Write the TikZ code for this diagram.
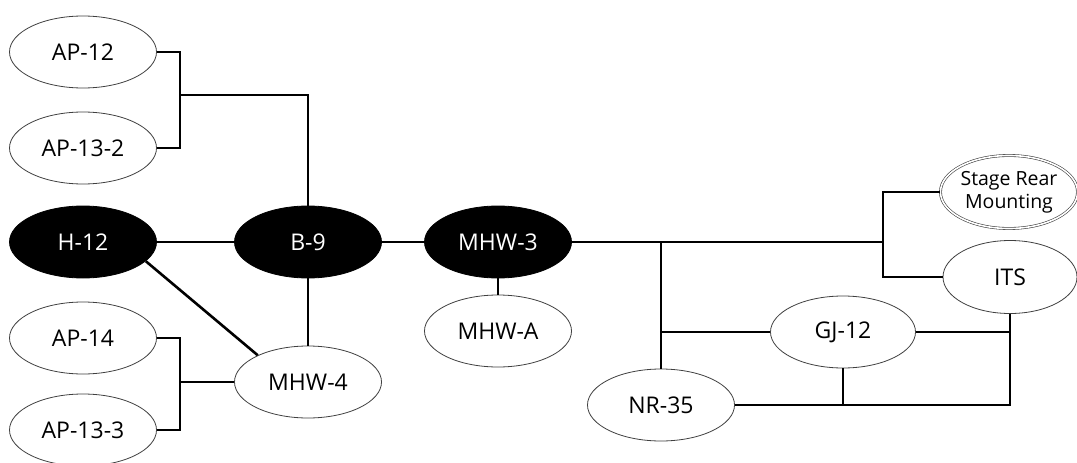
\documentclass[tikz,border=0pt]{standalone}
\usepackage{fontspec}
\setmainfont{Open Sans}
\usetikzlibrary{shapes.geometric}

\begin{document}
\begin{tikzpicture}[node distance=2cm, every node/.style={font=\fontsize{23}{26}\selectfont}]

% Define styles for the nodes
\tikzstyle{leaf} = [ellipse, minimum width=147pt, minimum height=72pt, inner sep=0pt, text centered, draw=black!75, line width=0.8pt, fill=white]
\tikzstyle{hub} = [leaf, draw=black, fill=black, text=white]
\tikzstyle{mount} = [leaf, minimum width=132pt, minimum height=73pt, double, double distance=1.6pt, line width=0.6pt, font=\fontsize{19.5}{23}\selectfont, align=center]
\tikzstyle{link} = [line width=2.6pt]

\useasboundingbox (0,0) rectangle (1077pt,-463pt);

% Nodes
\node (h12) [hub] at (83pt,-242pt) {H-12};
\node (b9) [hub, right of=h12, node distance=225pt] {B-9};
\node (mhw3) [hub, right of=b9, node distance=190pt] {MHW-3};
\node (ap12) [leaf, above of=h12, node distance=190pt] {AP-12};
\node (ap132) [leaf, above of=h12, node distance=94pt] {AP-13-2};
\node (ap14) [leaf, below of=h12, node distance=96pt] {AP-14};
\node (ap133) [leaf, below of=h12, node distance=188pt] {AP-13-3};
\node (mhw4) [leaf, below of=b9, node distance=140pt] {MHW-4};
\node (mhwa) [leaf, below of=mhw3, node distance=89pt] {MHW-A};
\node (nr35) [leaf] at (661pt,-405pt) {NR-35};
\node (gj12) [leaf, minimum width=145pt] at (843pt,-332pt) {GJ-12};
\node (its) [leaf, minimum width=134pt, minimum height=73pt] at (1010pt,-277pt) {ITS};
\node (srm) [mount] at (1009pt,-192pt) {Stage Rear\\Mounting};

% Junctions
\coordinate (jtop) at (180pt,-95pt);
\coordinate (jbot) at (180pt,-382pt);
\coordinate (jright) at (883pt,-242pt);
\coordinate (jmid) at (661pt,-242pt);

% Connectors
\draw [link] (ap12.east) -| (jtop) |- (ap132.east);
\draw [link] (jtop) -| (b9.north);
\draw [link] (ap14.east) -| (jbot) |- (ap133.east);
\draw [link] (jbot) -- (mhw4.west);
\draw [link] (h12) -- (b9);
\draw [link] (b9) -- (mhw3);
\draw [link] (b9) -- (mhw4);
\draw [link] (h12.-17) -- (mhw4.152);
\draw [link] (mhw3) -- (mhwa);
\draw [link] (mhw3.east) -- (jright);
\draw [link] (srm.west) -| (jright) |- (its.west);
\draw [link] (jmid) -- (nr35.north);
\draw [link] (gj12.west) -- (gj12.west -| jmid);
\draw [link] (gj12.east) -| (its.south);
\draw [link] (its.south) |- (nr35.east);
\draw [link] (gj12.south) -- (gj12.south |- nr35.east);

\end{tikzpicture}
\end{document}
